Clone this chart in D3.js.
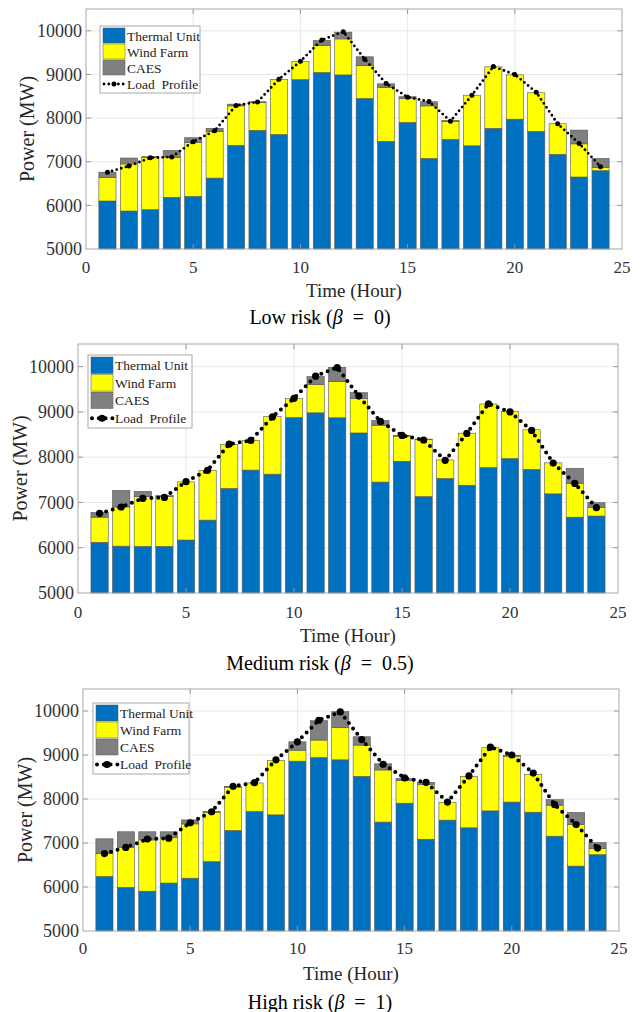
<!DOCTYPE html>
<html>
<head>
<meta charset="utf-8">
<script src="https://cdn.jsdelivr.net/npm/d3@7"></script>
<style>
  html, body { margin: 0; padding: 0; background: #fff; }
  svg { display: block; }
  text { font-family: "Liberation Serif", "Times New Roman", serif; }
</style>
</head>
<body>
<svg id="chart" width="641" height="1012"></svg>
<script>
// Hourly dispatch (MW) for three risk levels: thermal, wind and CAES stacked against the load.
const hours = d3.range(1, 25);

const loadProfile = [6760, 6900, 7090, 7110, 7460, 7710, 8290, 8370, 8890, 9300, 9790, 9980,
                     9350, 8790, 8480, 8380, 7930, 8525, 9180, 9000, 8590, 7870, 7420, 6885];

// Low risk (beta = 0)
const thermalLow = [6100, 5870, 5900, 6185, 6205, 6625, 7375, 7720, 7625, 8880, 9045, 8990,
                    8450, 7465, 7900, 7075, 7510, 7365, 7765, 7975, 7695, 7170, 6650, 6795];
const windLow    = [540, 1080, 1200, 915, 1240, 1070, 905, 640, 1255, 420, 620, 825,
                    750, 1235, 545, 1205, 415, 1160, 1410, 1015, 885, 700, 760, 75];
const caesLow    = [120, 135, 15, 160, 105, 70, 40, 15, 0, 0, 115, 155,
                    205, 85, 45, 95, 20, 0, 0, 0, 0, 0, 315, 205];

// Medium risk (beta = 0.5)
const thermalMed = [6120, 6035, 6030, 6030, 6170, 6610, 7310, 7715, 7625, 8875, 8980, 8870,
                    8535, 7450, 7910, 7130, 7530, 7380, 7770, 7970, 7730, 7190, 6675, 6700];
const windMed    = [555, 865, 1100, 1100, 1285, 1095, 970, 655, 1270, 420, 630, 800,
                    765, 1255, 555, 1260, 410, 1150, 1405, 1045, 875, 685, 750, 190];
const caesMed    = [105, 365, 115, 20, 0, 0, 0, 0, 0, 0, 170, 315,
                    125, 105, 15, 10, 0, 0, 0, 0, 0, 0, 330, 105];

// High risk (beta = 1)
const thermalHigh = [6240, 5990, 5905, 6090, 6200, 6575, 7285, 7715, 7640, 8860, 8940, 8890,
                     8515, 7475, 7905, 7085, 7520, 7345, 7730, 7930, 7700, 7155, 6475, 6735];
const windHigh    = [520, 915, 1165, 1035, 1235, 1125, 985, 650, 1240, 250, 400, 730,
                     710, 1185, 520, 1250, 400, 1170, 1435, 1045, 855, 705, 945, 135];
const caesHigh    = [335, 350, 185, 130, 90, 15, 15, 0, 0, 190, 440, 365,
                     190, 140, 45, 45, 0, 0, 0, 15, 0, 125, 275, 140];

const seriesKeys   = ["thermal", "wind", "caes"];
const seriesLabels = ["Thermal Unit", "Wind Farm", "CAES", "Load  Profile"];
const seriesColors = ["#0070c0", "#ffff00", "#808080"];

const xTicks = [0, 5, 10, 15, 20, 25];
const yTicks = [5000, 6000, 7000, 8000, 9000, 10000];
const xDomain = [0, 25];
const yDomain = [5000, 10500];

const xTitle = "Time (Hour)";
const yTitle = "Power (MW)";
const riskNames = ["Low risk", "Medium risk", "High risk"];
const betaValues = ["0", "0.5", "1"];

// Panel geometry (pixels)
const panels = [
  { thermal: thermalLow,  wind: windLow,  caes: caesLow,
    left: 86, right: 622, top: 9,   bottom: 249, tickY: 267, xTitleY: 290, capY: 317, yTitleX: 27,
    leg: { x: 100, y: 26,  w: 100, row: 16, sw: 22 }, dot: 2.8, gap: 4.8, mark: 2.5 },
  { thermal: thermalMed,  wind: windMed,  caes: caesMed,
    left: 78, right: 618, top: 344, bottom: 593, tickY: 612, xTitleY: 635, capY: 663, yTitleX: 20,
    leg: { x: 88,  y: 355, w: 104, row: 17.5, sw: 22 }, dot: 4, gap: 6.8, mark: 3.6 },
  { thermal: thermalHigh, wind: windHigh, caes: caesHigh,
    left: 83, right: 619, top: 689, bottom: 931, tickY: 948, xTitleY: 973, capY: 1002, yTitleX: 25,
    leg: { x: 93,  y: 703, w: 96,  row: 17,  sw: 22 }, dot: 4, gap: 6.8, mark: 3.6 }
];

const svg = d3.select("#chart");

panels.forEach((p, pi) => {
  const x = d3.scaleLinear().domain(xDomain).range([p.left, p.right]);
  const y = d3.scaleLinear().domain(yDomain).range([p.bottom, p.top]).clamp(true);
  const g = svg.append("g");

  // grid
  g.append("g").selectAll("line").data(xTicks.slice(1, -1)).join("line")
    .attr("x1", d => x(d)).attr("x2", d => x(d)).attr("y1", p.top).attr("y2", p.bottom)
    .attr("stroke", "#e8e8e8").attr("stroke-width", 1);
  g.append("g").selectAll("line").data(yTicks.slice(1)).join("line")
    .attr("x1", p.left).attr("x2", p.right).attr("y1", d => y(d)).attr("y2", d => y(d))
    .attr("stroke", "#e8e8e8").attr("stroke-width", 1);

  // stacked bars
  const rows = hours.map((h, i) => ({ hour: h, thermal: p.thermal[i], wind: p.wind[i], caes: p.caes[i] }));
  const stacked = d3.stack().keys(seriesKeys)(rows);
  const bw = x(0.8) - x(0);
  stacked.forEach((layer, li) => {
    g.append("g").selectAll("rect").data(layer.filter(d => d[1] - d[0] > 0)).join("rect")
      .attr("x", d => x(d.data.hour) - bw / 2)
      .attr("width", bw)
      .attr("y", d => y(d[1]))
      .attr("height", d => y(d[0]) - y(d[1]))
      .attr("fill", seriesColors[li])
      .attr("stroke", "#555")
      .attr("stroke-width", 0.6);
  });

  // load profile (dotted line with markers)
  const line = d3.line().x((d, i) => x(hours[i])).y(d => y(d));
  g.append("path").datum(loadProfile)
    .attr("d", line).attr("fill", "none")
    .attr("stroke", "#000").attr("stroke-width", p.dot)
    .attr("stroke-linecap", "round").attr("stroke-dasharray", `0,${p.gap}`);
  g.append("g").selectAll("circle").data(loadProfile).join("circle")
    .attr("cx", (d, i) => x(hours[i])).attr("cy", d => y(d)).attr("r", p.mark).attr("fill", "#000");

  // axes box and inward ticks
  g.append("rect").attr("x", p.left).attr("y", p.top)
    .attr("width", p.right - p.left).attr("height", p.bottom - p.top)
    .attr("fill", "none").attr("stroke", "#a8a8a8").attr("stroke-width", 1);
  const tl = 5;
  g.append("g").selectAll("path").data(xTicks.slice(1, -1)).join("path")
    .attr("d", d => `M${x(d)},${p.bottom}v${-tl}M${x(d)},${p.top}v${tl}`)
    .attr("stroke", "#999").attr("stroke-width", 1);
  g.append("g").selectAll("path").data(yTicks.slice(1)).join("path")
    .attr("d", d => `M${p.left},${y(d)}h${tl}M${p.right},${y(d)}h${-tl}`)
    .attr("stroke", "#999").attr("stroke-width", 1);

  // tick labels
  g.append("g").selectAll("text").data(xTicks).join("text")
    .attr("x", d => x(d)).attr("y", p.tickY).attr("dy", "0.35em")
    .attr("text-anchor", "middle").attr("font-size", 17).attr("fill", "#333").text(d => d);
  g.append("g").selectAll("text").data(yTicks).join("text")
    .attr("x", p.left - 4).attr("y", d => y(d)).attr("dy", "0.35em")
    .attr("text-anchor", "end").attr("font-size", 18).attr("fill", "#333").text(d => d);

  // axis titles
  g.append("text").attr("x", (p.left + p.right) / 2).attr("y", p.xTitleY).attr("dy", "0.35em")
    .attr("text-anchor", "middle").attr("font-size", 19).attr("fill", "#262626").text(xTitle);
  g.append("text")
    .attr("transform", `translate(${p.yTitleX},${(p.top + p.bottom) / 2}) rotate(-90)`)
    .attr("dy", "0.35em").attr("text-anchor", "middle").attr("font-size", 20).attr("fill", "#262626")
    .text(yTitle);

  // caption
  const cap = svg.append("text").attr("x", 320).attr("y", p.capY).attr("dy", "0.35em")
    .attr("text-anchor", "middle").attr("font-size", 20).attr("fill", "#000")
    .attr("style", "white-space:pre");
  cap.append("tspan").text(riskNames[pi] + " (");
  cap.append("tspan").attr("font-style", "italic").text("\u03b2");
  cap.append("tspan").text("  =  " + betaValues[pi] + ")");

  // legend
  const L = p.leg;
  const lg = g.append("g");
  lg.append("rect").attr("x", L.x).attr("y", L.y).attr("width", L.w).attr("height", L.row * 4 + 3)
    .attr("fill", "#fff").attr("stroke", "#a8a8a8").attr("stroke-width", 1);
  seriesLabels.forEach((lab, i) => {
    const ry = L.y + 2 + i * L.row;
    if (i < 3) {
      lg.append("rect").attr("x", L.x + 3).attr("y", ry).attr("width", L.sw).attr("height", L.row - 1)
        .attr("fill", seriesColors[i]).attr("stroke", "#555").attr("stroke-width", 0.5);
    } else {
      const cy = ry + L.row / 2;
      lg.append("line").attr("x1", L.x + 4).attr("x2", L.x + 3 + L.sw).attr("y1", cy).attr("y2", cy)
        .attr("stroke", "#000").attr("stroke-width", p.dot).attr("stroke-linecap", "round")
        .attr("stroke-dasharray", `0,${p.gap}`);
      lg.append("circle").attr("cx", L.x + 3 + L.sw / 2).attr("cy", cy).attr("r", p.mark).attr("fill", "#000");
    }
    lg.append("text").attr("x", L.x + L.sw + 5).attr("y", ry + L.row / 2).attr("dy", "0.35em")
      .attr("font-size", 13.5).attr("fill", "#222").attr("style", "white-space:pre").text(lab);
  });
});
</script>
</body>
</html>
